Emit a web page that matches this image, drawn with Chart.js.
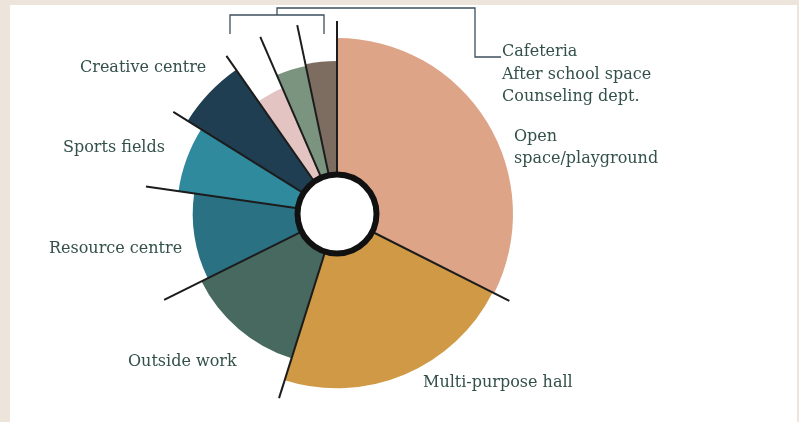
<!DOCTYPE html>
<html>
<head>
<meta charset="utf-8">
<script src="https://cdn.jsdelivr.net/npm/chart.js@4"></script>
<style>
    html, body { margin: 0; padding: 0; background: #ede4dc; }
    #wrap { position: absolute; left: 10px; top: 5px; width: 787px; height: 417px; background: #ffffff; }
</style>
</head>
<body>
<div id="wrap"><canvas id="spaceChart"></canvas></div>
<script>
// Dados do gráfico
const areas = ['Open space/playground', 'Multi-purpose hall', 'Outside work', 'Resource centre',
    'Sports fields', 'Creative centre', 'Counseling dept.', 'After school space', 'Cafeteria'];
const share = [32.4, 22.4, 12.8, 9.6, 6.6, 6.4, 3.2, 3.2, 3.3];   // ângulo de cada fatia (%)
const reach = [100, 99, 86, 82, 91, 100, 78, 86, 87];             // raio relativo de cada fatia (%)
const colors = ['#dea487', '#d09945', '#48695f', '#2a7184', '#2f8a9e', '#1f3e52', '#e3c4c3', '#7b9480', '#7c6d60'];

// Posição dos rótulos (deslocamento a partir do centro)
const labelSpots = [
    { dx: 177, dy: -77, lines: ['Open', 'space/playground'] },
    { dx: 86, dy: 169, lines: ['Multi-purpose hall'] },
    { dx: -209, dy: 148, lines: ['Outside work'] },
    { dx: -288, dy: 35, lines: ['Resource centre'] },
    { dx: -274, dy: -66, lines: ['Sports fields'] },
    { dx: -257, dy: -146, lines: ['Creative centre'] }
];
const smallGroup = [8, 7, 6]; // fatias pequenas agrupadas no colchete

const textColor = '#33504a';
const font = '16px "DejaVu Serif", serif';

// Plugin: raio variável, linhas separadoras, anel central e rótulos
const radialPlugin = {
    id: 'radialPlugin',
    afterDatasetsUpdate(chart) {
        const meta = chart.getDatasetMeta(0);
        meta.data.forEach((arc, i) => {
            arc.outerRadius = meta.controller.outerRadius * reach[i] / 100;
        });
    },
    afterDatasetsDraw(chart) {
        const ctx = chart.ctx;
        const meta = chart.getDatasetMeta(0);
        const first = meta.data[0];
        const cx = first.x, cy = first.y;
        const outer = meta.controller.outerRadius;
        const inner = meta.controller.innerRadius;

        // linhas separadoras
        ctx.save();
        ctx.strokeStyle = '#1c1c1c';
        ctx.lineWidth = 2;
        meta.data.forEach(arc => {
            const a = arc.startAngle;
            ctx.beginPath();
            ctx.moveTo(cx + Math.cos(a) * inner, cy + Math.sin(a) * inner);
            ctx.lineTo(cx + Math.cos(a) * (outer + 17), cy + Math.sin(a) * (outer + 17));
            ctx.stroke();
        });

        // anel central
        ctx.beginPath();
        ctx.arc(cx, cy, inner - 0.5, 0, Math.PI * 2);
        ctx.fillStyle = '#ffffff';
        ctx.fill();
        ctx.lineWidth = 6;
        ctx.strokeStyle = '#111111';
        ctx.stroke();

        // colchete das fatias pequenas
        ctx.strokeStyle = '#3b4f5e';
        ctx.lineWidth = 1.3;
        ctx.beginPath();
        ctx.moveTo(cx - 107, cy - 180);
        ctx.lineTo(cx - 107, cy - 199);
        ctx.lineTo(cx - 13, cy - 199);
        ctx.lineTo(cx - 13, cy - 180);
        ctx.moveTo(cx - 60, cy - 199);
        ctx.lineTo(cx - 60, cy - 206);
        ctx.lineTo(cx + 138, cy - 206);
        ctx.lineTo(cx + 138, cy - 157);
        ctx.lineTo(cx + 164, cy - 157);
        ctx.stroke();

        // rótulos
        ctx.fillStyle = textColor;
        ctx.font = font;
        ctx.textAlign = 'left';
        ctx.textBaseline = 'middle';
        labelSpots.forEach(spot => {
            spot.lines.forEach((line, k) => {
                ctx.fillText(line, cx + spot.dx, cy + spot.dy + k * 22);
            });
        });
        smallGroup.forEach((idx, k) => {
            ctx.fillText(areas[idx], cx + 165, cy - 162 + k * 22.5);
        });
        ctx.restore();
    }
};

document.addEventListener('DOMContentLoaded', function() {
    const ctx = document.getElementById('spaceChart').getContext('2d');
    new Chart(ctx, {
        type: 'doughnut',
        data: {
            labels: areas,
            datasets: [{
                data: share,
                backgroundColor: colors,
                borderWidth: 0
            }]
        },
        options: {
            responsive: true,
            maintainAspectRatio: false,
            animation: false,
            events: [],
            cutout: 40,
            layout: {
                padding: { left: 151, right: 284, top: 33, bottom: 32 }
            },
            plugins: {
                legend: { display: false },
                tooltip: { enabled: false }
            }
        },
        plugins: [radialPlugin]
    });
});
</script>
</body>
</html>
